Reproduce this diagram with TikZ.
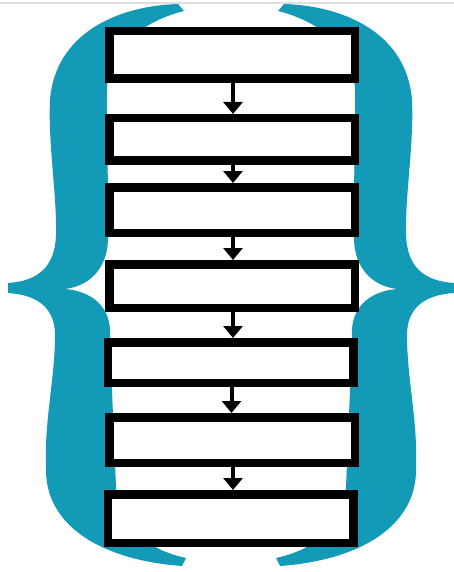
\documentclass[tikz,border=0pt]{standalone}
\usetikzlibrary{arrows.meta}
\definecolor{bracecol}{RGB}{18,154,182}
\definecolor{tipcol}{RGB}{6,132,142}
\definecolor{topline}{RGB}{222,222,222}
\pgfdeclareverticalshading{bracesh}{100bp}{color(0bp)=(tipcol); color(8bp)=(bracecol); color(92bp)=(bracecol); color(100bp)=(tipcol)}
\newcommand{\leftbracepath}{%
(178,4)
.. controls (115,6) and (55,35) .. (50,100)
.. controls (48,145) and (57,195) .. (56,235)
.. controls (55,265) and (40,281) .. (8,283)
-- (8,293)
.. controls (40,295) and (55,310) .. (55,335)
.. controls (55,380) and (44,420) .. (46,470)
.. controls (46,525) and (100,560) .. (182,566)
-- (186,558)
.. controls (140,548) and (117,520) .. (116,487)
.. controls (114,440) and (111,370) .. (110,330)
.. controls (109,305) and (90,291) .. (65,289)
.. controls (90,286) and (107,268) .. (108,240)
.. controls (109,190) and (106,130) .. (107,90)
.. controls (108,50) and (140,22) .. (184,11)
-- cycle}
\tikzset{
  stepbox/.style={draw=black, fill=white, line width=8.5pt, rectangle,
    inner sep=0pt, minimum width=245.5pt},
  flowarrow/.style={line width=4pt, -{Triangle[width=19pt,length=12pt]}},
  bracefill/.style={shading=bracesh, draw=none}
}
\begin{document}
\begin{tikzpicture}[x=1pt,y=-1pt]
\useasboundingbox (0,0) rectangle (454,572);
\fill[white] (0,0) rectangle (454,572);
\draw[topline, line width=2pt] (0,3) -- (454,3);
% braces
\shade[bracefill] \leftbracepath;
\begin{scope}[shift={(462,0)}, xscale=-1]
  \shade[bracefill] \leftbracepath;
\end{scope}
% boxes
\node[stepbox, minimum height=47.5pt] (b1) at (232,55) {};
\node[stepbox, minimum height=42.5pt] (b2) at (232,139.5) {};
\node[stepbox, minimum height=45.5pt] (b3) at (232,210) {};
\node[stepbox, minimum height=43.5pt] (b4) at (232,286) {};
\node[stepbox, minimum height=40.5pt] (b5) at (230.5,362.5) {};
\node[stepbox, minimum height=45.5pt] (b6) at (232,440) {};
\node[stepbox, minimum height=48.5pt] (b7) at (230.5,518.5) {};
% arrows
\foreach \a/\b in {b1/b2,b2/b3,b3/b4,b4/b5,b5/b6,b6/b7}{
  \draw[flowarrow] ([xshift=1pt]\a.south) -- ([xshift=1pt]\a.south |- \b.north);
}
\end{tikzpicture}
\end{document}
